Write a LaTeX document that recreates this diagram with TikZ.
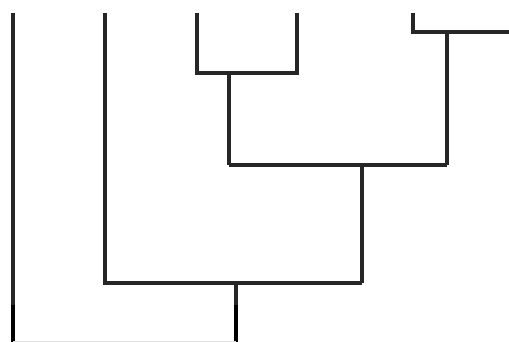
\documentclass[tikz,border=0pt]{standalone}
\begin{document}
\begin{tikzpicture}[x=1pt,y=-1pt,
  branch/.style={draw=black!85,line width=3.4pt,line cap=butt,line join=miter}]
\useasboundingbox (0,0) rectangle (509,342);
% leaves (tops)
\coordinate (l1) at (13,13);
\coordinate (l2) at (105,13);
\coordinate (l3) at (197,13);
\coordinate (l4) at (297,13);
\coordinate (l5) at (413,13);
% internal joins
\coordinate (j34) at (229,73);
\coordinate (j5) at (447,32);
\coordinate (j345) at (362,165);
\coordinate (j2345) at (236,283);
\coordinate (root) at (13,342);
\coordinate (rootR) at (236,342);
\coordinate (out) at (509,32);
% cluster 3-4
\draw[branch] (l3) |- (j34) -| (l4);
\draw[branch] (j34) -- (229,165);
% leaf 5 with branch running off the right edge
\draw[branch] (l5) |- (out);
\draw[branch] (j5) -- (447,165);
% join of (3,4) with 5
\draw[branch] (229,165) -- (447,165);
\draw[branch] (j345) -- (362,283);
% join with leaf 2
\draw[branch] (l2) |- (362,283);
\draw[branch] (j2345) -- (rootR);
% leaf 1 and root
\draw[branch] (l1) -- (root);
\draw[branch,line width=4.2pt,draw=black] (13,305) -- (root);
\draw[branch,line width=4.2pt,draw=black] (236,305) -- (rootR);
\draw[draw=black!12,line width=1.5pt] (root) -- (rootR);
\end{tikzpicture}
\end{document}
